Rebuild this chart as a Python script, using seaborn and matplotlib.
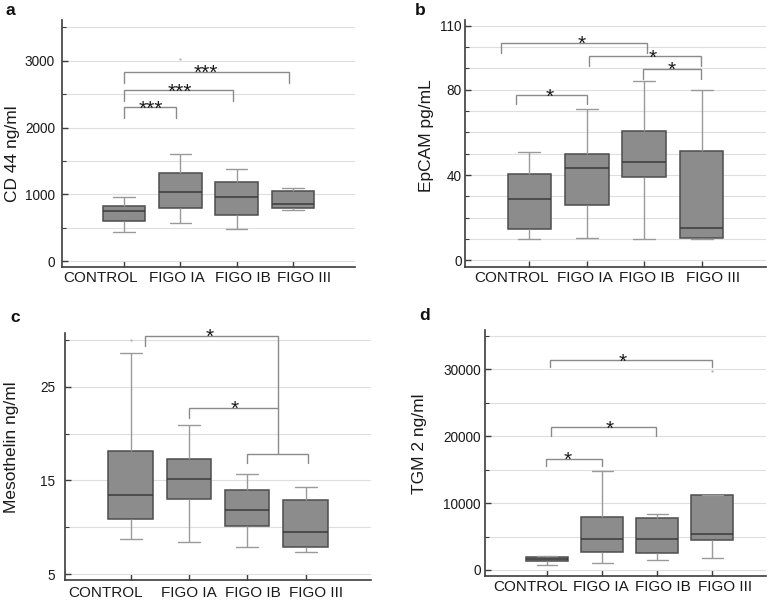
import numpy as np
import pandas as pd
import matplotlib
matplotlib.use("Agg")
import matplotlib.pyplot as plt
import matplotlib.transforms as mtrans
from matplotlib.ticker import MultipleLocator, FixedLocator
import seaborn as sns

# ---------------- data ----------------
groups = ["CONTROL", "FIGO IA", "FIGO IB", "FIGO III"]

cd44_min = [438, 567, 483, 766]
cd44_q1 = [597, 791, 697, 791]
cd44_med = [751, 1035, 960, 856]
cd44_q3 = [821, 1318, 1184, 1045]
cd44_max = [960, 1602, 1373, 1090]
cd44_out_group = ["FIGO IA"]
cd44_out_value = [3020]

epcam_min = [10.2, 10.6, 10.2, 10.2]
epcam_q1 = [14.5, 25.8, 39.2, 10.5]
epcam_med = [28.6, 43.1, 46.3, 15.0]
epcam_q3 = [40.6, 49.8, 60.6, 51.1]
epcam_max = [50.6, 70.9, 83.9, 79.7]

meso_min = [8.77, 8.38, 7.92, 7.35]
meso_q1 = [10.91, 13.04, 10.12, 7.92]
meso_med = [13.40, 15.11, 11.87, 9.45]
meso_q3 = [18.13, 17.24, 13.93, 12.86]
meso_max = [28.56, 20.9, 15.64, 14.32]
meso_out_group = ["CONTROL"]
meso_out_value = [30.0]

tgm_min = [797, 1046, 1445, 1744]
tgm_q1 = [1296, 2641, 2492, 4435]
tgm_med = [1595, 4684, 4584, 5332]
tgm_q3 = [1894, 7873, 7724, 11212]
tgm_max = [2143, 14750, 8322, 11212]
tgm_out_group = ["FIGO III"]
tgm_out_value = [29800]

# significance brackets: x1, x2, top, left leg bottom, right leg bottom, label, label x
cd44_brackets = [
    (0.0, 0.92, 2303, 2139, 2139, "***", 0.47),
    (0.0, 1.94, 2557, 2398, 2398, "***", 0.99),
    (0.0, 2.92, 2836, 2672, 2672, "***", 1.45),
]
epcam_brackets = [
    (-0.49, 2.04, 101.9, 97.3, 97.3, "*", 0.91),
    (1.03, 2.98, 95.6, 91.3, 91.3, "*", 2.14),
    (1.98, 2.98, 89.7, 85.2, 85.2, "*", 2.47),
    (-0.24, 1.0, 77.3, 73.3, 73.3, "*", 0.35),
]
meso_brackets = [
    (0.245, 2.53, 30.41, 29.34, 17.88, "*", 1.36),
    (1.0, 2.53, 22.76, 21.69, 22.76, "*", 1.79),
    (2.0, 3.04, 17.78, 16.8, 16.8, "", 2.5),
]
tgm_brackets = [
    (-0.02, 0.99, 16643, 15547, 15547, "*", 0.37),
    (0.08, 1.98, 21327, 20081, 20081, "*", 1.14),
    (0.05, 3.0, 31393, 30396, 30396, "*", 1.37),
]

# ---------------- style ----------------
sns.set_theme(style="white")
plt.rcParams["font.family"] = ["Liberation Sans", "DejaVu Sans"]

BOX_FILL = "#8c8c8c"
BOX_EDGE = "#4d4d4d"
WHISK = "#9a9a9a"
SPINE = "#3c3c3c"
GRID = "#dedede"
BRACK = "#8a8a8a"

fig = plt.figure(figsize=(7.78, 6.0), dpi=100)


def long_frame(mn, q1, med, q3, mx):
    rows = []
    for g, a, b, c, d, e in zip(groups, mn, q1, med, q3, mx):
        for v in (a, b, c, d, e):
            rows.append({"group": g, "value": v})
    return pd.DataFrame(rows)


def panel(rect, stats, ylim, major, minor, ylabel, ylab_pos, xlim,
          brackets, offsets, ypad, letter, letter_xy, outliers=None, xpad=3):
    ax = fig.add_axes(rect)
    df = long_frame(*stats)
    sns.boxplot(data=df, x="group", y="value", order=groups, ax=ax,
                color=BOX_FILL, saturation=1, width=0.76, whis=(0, 100),
                linewidth=1.1, linecolor=BOX_EDGE, fliersize=0,
                whiskerprops=dict(color=WHISK, linewidth=1.0),
                capprops=dict(color=WHISK, linewidth=1.0),
                medianprops=dict(color="#3a3a3a", linewidth=1.1))
    if outliers is not None:
        og, ov = outliers
        sns.stripplot(x=og, y=ov, order=groups, ax=ax, jitter=False,
                      size=1.6, color="#b0b0b0", linewidth=0)
    ax.set_xlim(*xlim)
    ax.set_ylim(*ylim)
    ax.yaxis.set_major_locator(FixedLocator(major))
    ax.yaxis.set_minor_locator(MultipleLocator(minor))
    ax.set_axisbelow(True)
    ax.yaxis.grid(True, which="both", color=GRID, linewidth=0.8)
    ax.xaxis.grid(False)
    for s in ["top", "right"]:
        ax.spines[s].set_visible(False)
    for s in ["left", "bottom"]:
        ax.spines[s].set_color(SPINE)
        ax.spines[s].set_linewidth(1.2)
    ax.tick_params(axis="y", which="major", direction="in", length=4,
                   width=1, color=SPINE, labelsize=9.8, pad=ypad,
                   labelcolor="#1a1a1a", left=True)
    ax.tick_params(axis="y", which="minor", direction="in", length=3,
                   width=0.8, color=SPINE, left=True)
    ax.tick_params(axis="x", which="major", direction="in", length=4,
                   width=1, color=SPINE, labelsize=11, pad=xpad,
                   labelcolor="#1a1a1a", bottom=True)
    ax.set_xlabel("")
    ax.set_ylabel(ylabel, fontsize=12.5, color="#1a1a1a")
    ax.yaxis.set_label_coords(*ylab_pos)
    for lab, dx in zip(ax.get_xticklabels(), offsets):
        lab.set_transform(lab.get_transform() +
                          mtrans.ScaledTranslation(dx / 100, 0, fig.dpi_scale_trans))
    for x1, x2, top, yl, yr, txt, tx in brackets:
        ax.plot([x1, x1, x2, x2], [yl, top, top, yr], color=BRACK,
                linewidth=1.0, solid_joinstyle="miter", zorder=3)
        if txt:
            ax.annotate(txt, xy=(tx, top), xytext=(0, -5.2),
                        textcoords="offset points", ha="center",
                        va="baseline", fontsize=15, color="#1a1a1a")
    fig.text(letter_xy[0] / 778, 1 - letter_xy[1] / 600, letter,
             fontsize=12.5, fontweight="bold", va="baseline", ha="left",
             color="#111111")
    return ax


panel([62 / 778, 1 - 267 / 600, 293 / 778, 247 / 600],
      (cd44_min, cd44_q1, cd44_med, cd44_q3, cd44_max),
      (-85, 3607), [0, 1000, 2000, 3000], 500, "CD 44 ng/ml", (-0.145, 0.46),
      (-1.1, 4.1), cd44_brackets, [-23, -3, 6, 11], 5, "a", (5, 15),
      outliers=(cd44_out_group, cd44_out_value))

panel([465 / 778, 1 - 266.7 / 600, 301 / 778, 246.7 / 600],
      (epcam_min, epcam_q1, epcam_med, epcam_q3, epcam_max),
      (-3, 112.7), [0, 40, 80, 110], 10, "EpCAM pg/mL", (-0.103, 0.532),
      (-1.12, 4.12), epcam_brackets, [-18, -2.4, 3, 11], 2.4, "b", (415, 15))

panel([65.3 / 778, 1 - 580 / 600, 305.7 / 778, 246.7 / 600],
      (meso_min, meso_q1, meso_med, meso_q3, meso_max),
      (4.36, 30.7), [5, 15, 25], 5, "Mesothelin ng/ml", (-0.150, 0.537),
      (-1.12, 4.12), meso_brackets, [-25, 0, 5.5, 10], 7.4, "c", (10, 322),
      outliers=(meso_out_group, meso_out_value), xpad=4.5)

panel([485 / 778, 1 - 576 / 600, 280.7 / 778, 246 / 600],
      (tgm_min, tgm_q1, tgm_med, tgm_q3, tgm_max),
      (-900, 35900), [0, 10000, 20000, 30000], 5000, "TGM 2 ng/ml", (-0.206, 0.537),
      (-1.125, 3.97), tgm_brackets, [-16, -1, 6, 13], 3, "d", (419, 320),
      outliers=(tgm_out_group, tgm_out_value))

fig.savefig("out.png", dpi=100, facecolor="white")
